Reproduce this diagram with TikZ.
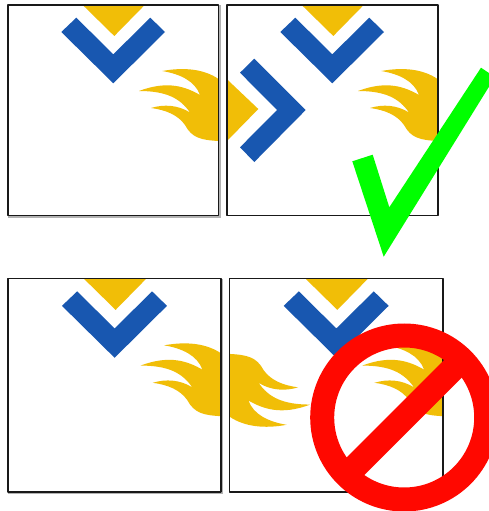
\documentclass[tikz,border=0pt]{standalone}
\definecolor{flameY}{RGB}{241,190,7}
\definecolor{chevB}{RGB}{24,87,176}
\definecolor{okG}{RGB}{0,255,0}
\definecolor{noR}{RGB}{255,8,0}
\tikzset{
  yellowfill/.style={fill=flameY,draw=none},
  bluefill/.style={fill=chevB,draw=none},
  panelbox/.style={draw=black!90,line width=1.9pt,line join=round},
  shadowline/.style={draw=black!30,line width=1.1pt}
}
\newcommand{\mytopchev}{%
  \fill[yellowfill] (74.7,0) -- (136.7,0) -- (106.3,31) -- cycle;
  \fill[bluefill] (53.3,27) -- (68.3,12.7) -- (105.3,49.3) -- (142.3,12.7) -- (157,27) -- (105.3,78.3) -- cycle;
}
\newcommand{\myflame}{%
  \fill[yellowfill] (210.5,74) .. controls (196,64) and (176,62) .. (154.3,66)
    .. controls (172,69) and (187,76) .. (192,90)
    .. controls (178,82) and (160,75) .. (131,86)
    .. controls (158,86) and (172,93) .. (182,107.5)
    .. controls (170,100) and (156,99) .. (143,103)
    .. controls (158,105) and (170,110) .. (177,120)
    .. controls (184,133) and (193,135) .. (210.5,136) -- cycle;
}
\begin{document}
\begin{tikzpicture}[x=1pt,y=-1pt]
\useasboundingbox (0,0) rectangle (489,511);
\clip (0,0) rectangle (489,511);
\fill[white] (0,0) rectangle (489,511);
% panel 1
\begin{scope}[shift={(8,5)}]
  \mytopchev
  \myflame
\end{scope}
% panel 2
\begin{scope}[shift={(227,5)}]
  \mytopchev
  \myflame
  \fill[yellowfill] (0,74.3) -- (31.3,104) -- (0,136) -- cycle;
  \fill[bluefill] (13,67.7) -- (27.3,53.7) -- (78.7,105) -- (27.3,157) -- (13,142.3) -- (50,105) -- cycle;
\end{scope}
% panel 3
\begin{scope}[shift={(8,278.5)},scale=1.0125]
  \mytopchev
  \myflame
\end{scope}
% panel 4
\begin{scope}[shift={(229.7,278.5)},scale=1.0125]
  \mytopchev
  \myflame
\end{scope}
% flame entering panel 4 from its left edge: the panel 3 flame turned by 180 degrees
\begin{scope}[shift={(229.7,278.5)},scale=1.0125]
  \begin{scope}[shift={(210.5,210.5)},xscale=-1,yscale=-1]
    \myflame
  \end{scope}
\end{scope}
% panel frames
\draw[shadowline] (220,5.5) -- (220,217) -- (8,217);
\draw[shadowline] (222.8,279) -- (222.8,493.2) -- (8,493.2);
\draw[panelbox] (8,5) rectangle (218.5,215.5);
\draw[panelbox] (226.7,5) rectangle (437.7,215.5);
\draw[panelbox] (8,278.5) rectangle (221.3,491.7);
\draw[panelbox] (229.5,278.5) rectangle (443.3,491.7);
% check
\fill[okG] (352.3,161.3) -- (372.7,154.7) -- (389.3,207.3) -- (481,67.7) -- (495,77) -- (383.7,256.7) -- cycle;
% prohibition
\draw[noR,line width=24pt] (404.2,417.5) circle (82);
\draw[noR,line width=25pt] (346.2,475.5) -- (462.2,359.5);
\end{tikzpicture}
\end{document}
